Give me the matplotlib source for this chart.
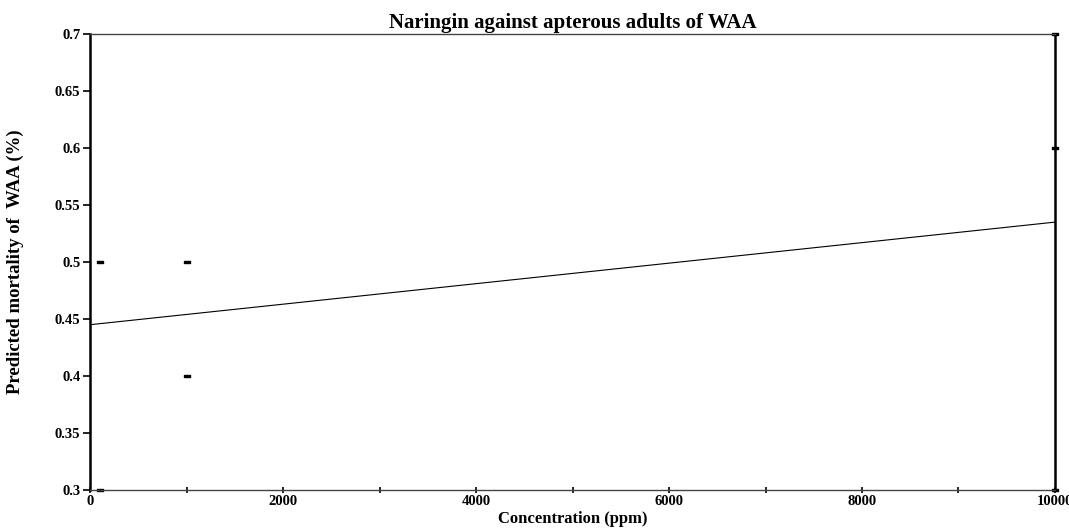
import matplotlib
matplotlib.use("Agg")
import matplotlib.pyplot as plt
from matplotlib.path import Path
import numpy as np

# observed data
conc = [100, 100, 1000, 1000, 10000, 10000, 10000]
mortality = [0.5, 0.3, 0.5, 0.4, 0.7, 0.6, 0.3]

# fitted line endpoints
fit_x = [0, 10000]
fit_y = [0.445, 0.535]

plt.rcParams['font.family'] = ['Liberation Serif', 'DejaVu Serif']
plt.rcParams['font.weight'] = 'bold'

# flat little rectangle marker
rect = Path([(-1, -0.5), (1, -0.5), (1, 0.5), (-1, 0.5), (-1, -0.5)],
            [Path.MOVETO, Path.LINETO, Path.LINETO, Path.LINETO, Path.CLOSEPOLY])

fig = plt.figure(figsize=(10.69, 5.29), dpi=100)
ax = fig.add_axes([0.0842, 0.0737, 0.9027, 0.862])

ax.plot(fit_x, fit_y, color='black', lw=0.8)
ax.plot(conc, mortality, ls='none', marker=rect, ms=4, color='black', clip_on=False)

ax.set_xlim(0, 10000)
ax.set_ylim(0.3, 0.7)
ax.set_xticks(np.arange(0, 10001, 2000))
ax.set_xticks(np.arange(1000, 10000, 2000), minor=True)
ax.set_xticklabels([str(v) for v in range(0, 10001, 2000)])
ax.set_yticks([0.3, 0.35, 0.4, 0.45, 0.5, 0.55, 0.6, 0.65, 0.7])
ax.set_yticklabels(['0.3', '0.35', '0.4', '0.45', '0.5', '0.55', '0.6', '0.65', '0.7'])

ax.tick_params(axis='y', direction='out', length=5, width=1.2, labelsize=10.5, pad=2)
ax.tick_params(axis='x', which='both', direction='inout', length=5, width=1.2, labelsize=10.5, pad=1)

ax.spines['left'].set_linewidth(1.8)
ax.spines['right'].set_linewidth(1.8)
ax.spines['top'].set_linewidth(1.0)
ax.spines['top'].set_color('#444444')
ax.spines['bottom'].set_linewidth(1.0)
ax.spines['bottom'].set_color('#444444')

ax.set_title('Naringin against apterous adults of WAA', fontsize=15, fontweight='bold', pad=4)
ax.set_xlabel('Concentration (ppm)', fontsize=12, fontweight='bold', labelpad=2)
ax.set_ylabel('Predicted mortality of  WAA (%)', fontsize=13.5, fontweight='bold', labelpad=22)

fig.savefig('out.png', dpi=100)
